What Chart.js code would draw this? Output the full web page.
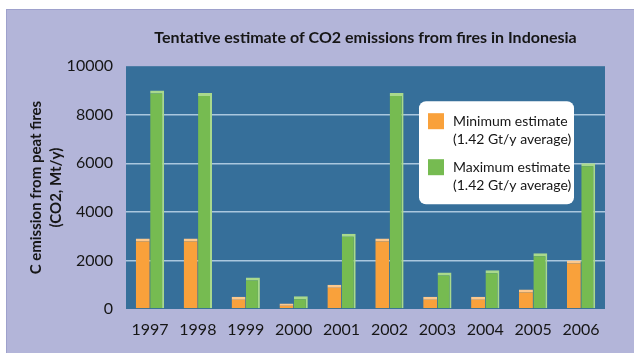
<!DOCTYPE html>
<html>
<head>
<meta charset="utf-8">
<script src="https://cdn.jsdelivr.net/npm/chart.js@4"></script>
<style>
  html, body { margin: 0; padding: 0; background: #fff; }
  #wrap { position: relative; width: 634px; height: 355px; overflow: hidden; }
  #panel {
    position: absolute; left: 6px; top: 9px; width: 628px; height: 344px;
    background: #b3b5d9; border-top: 1px solid #9ea1cc; border-left: 1px solid #9ea1cc;
    box-sizing: border-box;
  }
  #chart { position: absolute; left: 0; top: 0; }
</style>
</head>
<body>
<div id="wrap">
  <div id="panel"></div>
  <canvas id="chart" width="634" height="355"></canvas>
</div>
<script>
// data
const years = ['1997', '1998', '1999', '2000', '2001', '2002', '2003', '2004', '2005', '2006']
const minEstimate = [2900, 2900, 500, 230, 1000, 2900, 500, 500, 800, 2000]
const maxEstimate = [9000, 8900, 1300, 530, 3100, 8900, 1500, 1600, 2300, 6000]
const seriesNames = ['Minimum estimate', 'Maximum estimate']
const seriesNotes = ['(1.42 Gt/y average)', '(1.42 Gt/y average)']
const yTicks = [0, 2000, 4000, 6000, 8000, 10000]

const FONT = 'Lato, "Open Sans", sans-serif'
const TEXT = '#161616'

// blue plot background
const plotBg = {
    id: 'plotBg',
    beforeDraw(chart) {
        const { ctx, chartArea: a } = chart
        ctx.save()
        ctx.fillStyle = '#366f9a'
        ctx.fillRect(a.left, a.top, a.right - a.left, a.bottom - a.top)
        ctx.restore()
    }
}

// white rounded legend box with two-line labels
const boxLegend = {
    id: 'boxLegend',
    afterDraw(chart) {
        const { ctx, chartArea: a } = chart
        const x = a.left + 293, y = a.top + 35, w = 155, h = 103
        ctx.save()
        ctx.fillStyle = '#ffffff'
        ctx.beginPath()
        ctx.roundRect(x, y, w, h, 7)
        ctx.fill()
        ctx.font = '14px ' + FONT
        ctx.textBaseline = 'middle'
        chart.data.datasets.forEach((ds, i) => {
            const top = y + 12 + i * 46
            ctx.fillStyle = ds.backgroundColor
            ctx.fillRect(x + 9, top, 16, 16)
            ctx.fillStyle = TEXT
            ctx.fillText(seriesNames[i], x + 34, top + 8)
            ctx.fillText(seriesNotes[i], x + 34, top + 26)
        })
        ctx.restore()
    }
}

new Chart(document.querySelector('#chart'), {
    type: 'bar',
    data: {
        labels: years,
        datasets: [
            {
                label: seriesNames[0],
                data: minEstimate,
                backgroundColor: '#f9a13b',
                borderColor: '#fdc88c',
                borderWidth: { top: 3, left: 0, right: 0, bottom: 0 },
                borderSkipped: 'bottom',
                barPercentage: 0.97,
                categoryPercentage: 0.6
            },
            {
                label: seriesNames[1],
                data: maxEstimate,
                backgroundColor: '#76bb51',
                borderColor: '#a9d98c',
                borderWidth: { top: 3, left: 0, right: 2, bottom: 0 },
                borderSkipped: 'bottom',
                barPercentage: 0.97,
                categoryPercentage: 0.6
            }
        ]
    },
    options: {
        responsive: false,
        animation: false,
        layout: { padding: { left: 0, right: 29, top: 4, bottom: 0 } },
        plugins: {
            legend: { display: false },
            tooltip: { enabled: false },
            title: {
                display: true,
                fullSize: false,
                text: 'Tentative estimate of CO2 emissions from fires in Indonesia',
                color: TEXT,
                font: { family: FONT, size: 16, weight: 'bold', lineHeight: 1.2 },
                padding: { top: 24, bottom: 19 }
            }
        },
        scales: {
            x: {
                grid: { display: false, drawTicks: false },
                border: { display: false },
                ticks: { color: TEXT, font: { family: FONT, size: 16 }, padding: 11 },
                afterFit: s => { s.height = 46 }
            },
            y: {
                min: 0,
                max: 10000,
                afterBuildTicks: s => { s.ticks = yTicks.map(v => ({ value: v })) },
                grid: {
                    color: ctx => (ctx.tick.value === 0 || ctx.tick.value === 10000) ? 'rgba(0,0,0,0)' : '#aac7de',
                    lineWidth: 1.5,
                    drawTicks: false
                },
                border: { display: false },
                ticks: {
                    color: TEXT,
                    font: { family: FONT, size: 16 },
                    padding: 13,
                    callback: v => String(v)
                },
                title: {
                    display: true,
                    text: ['C emission from peat fires', '(CO2, Mt/y)'],
                    color: TEXT,
                    font: { family: FONT, size: 15, weight: 'bold', lineHeight: 1.34 },
                    padding: { top: 26, bottom: 0 }
                },
                afterFit: s => { s.width = 126 }
            }
        }
    },
    plugins: [plotBg, boxLegend]
})
</script>
</body>
</html>
